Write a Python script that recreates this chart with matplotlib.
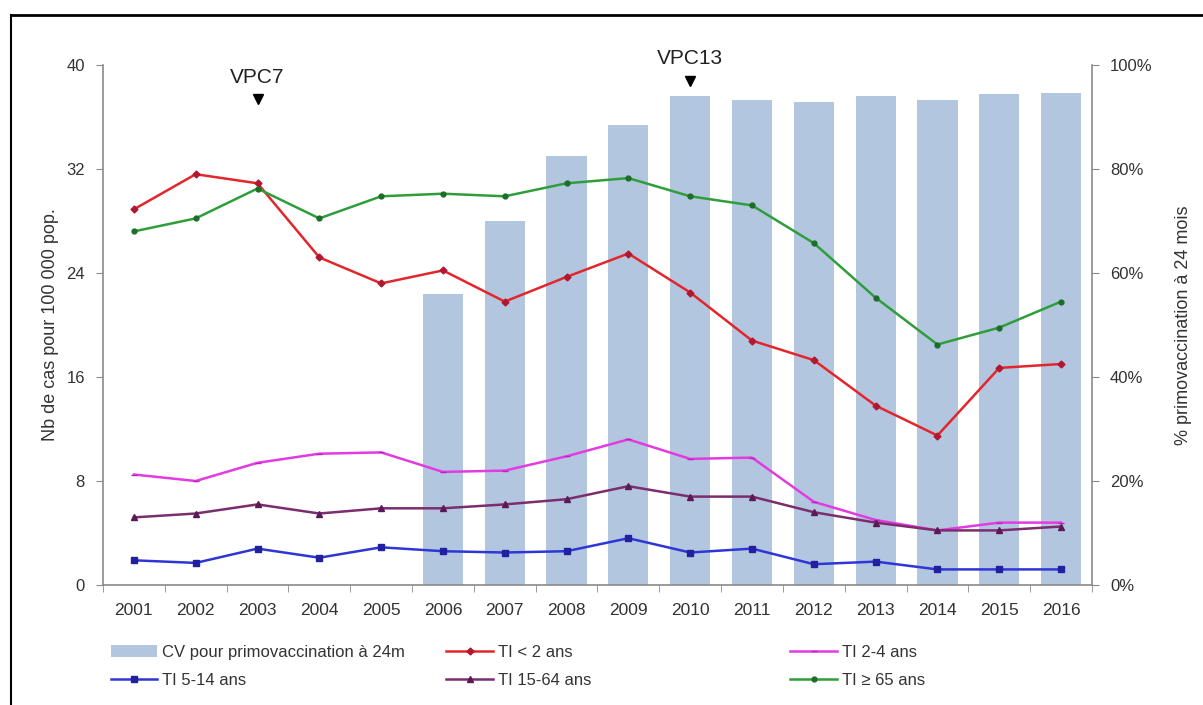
import matplotlib
matplotlib.use("Agg")
import matplotlib.pyplot as plt
import numpy as np
from matplotlib.lines import Line2D
from matplotlib.patches import Patch

years = ["2001", "2002", "2003", "2004", "2005", "2006", "2007", "2008",
         "2009", "2010", "2011", "2012", "2013", "2014", "2015", "2016"]
cv_pct = [np.nan, np.nan, np.nan, np.nan, np.nan, 56.0, 70.0, 82.5,
          88.5, 94.0, 93.2, 92.8, 94.0, 93.2, 94.5, 94.7]
ti_lt2 = [28.9, 31.6, 30.9, 25.2, 23.2, 24.2, 21.8, 23.7,
          25.5, 22.5, 18.8, 17.3, 13.8, 11.5, 16.7, 17.0]
ti_2_4 = [8.5, 8.0, 9.4, 10.1, 10.2, 8.7, 8.8, 9.9,
          11.2, 9.7, 9.8, 6.4, 5.0, 4.2, 4.8, 4.8]
ti_5_14 = [1.9, 1.7, 2.8, 2.1, 2.9, 2.6, 2.5, 2.6,
           3.6, 2.5, 2.8, 1.6, 1.8, 1.2, 1.2, 1.2]
ti_15_64 = [5.2, 5.5, 6.2, 5.5, 5.9, 5.9, 6.2, 6.6,
            7.6, 6.8, 6.8, 5.6, 4.8, 4.2, 4.2, 4.5]
ti_ge65 = [27.2, 28.2, 30.5, 28.2, 29.9, 30.1, 29.9, 30.9,
           31.3, 29.9, 29.2, 26.3, 22.1, 18.5, 19.8, 21.8]
left_ticks = [0, 8, 16, 24, 32, 40]
right_ticks = [0, 20, 40, 60, 80, 100]
events = [("VPC7", "2003"), ("VPC13", "2010")]

plt.rcParams['font.family'] = ['Liberation Sans', 'DejaVu Sans']

fig = plt.figure(figsize=(12.03, 7.05), dpi=100)
ax = fig.add_axes([0.0856, 0.1702, 0.8221, 0.7376])
ax2 = ax.twinx()

x = np.arange(len(years))
axis_col = '#8a8a8a'

# bars on the secondary axis, drawn behind
ax2.bar(x, cv_pct, width=0.65, color='#b3c6e0', zorder=1)
ax2.set_ylim(0, 100)
ax2.set_yticks(right_ticks)
ax2.set_yticklabels([f"{t}%" for t in right_ticks], fontsize=12, color='#333333')
ax2.set_ylabel("% primovaccination à 24 mois", fontsize=13, color='#333333', labelpad=16)

# lines on the primary axis in front
ax.set_zorder(ax2.get_zorder() + 1)
ax.patch.set_visible(False)

series = [
    (ti_lt2, '#e3262b', '#b01830', 'D', 3.5, "TI < 2 ans"),
    (ti_2_4, '#e23be2', '#c020c0', '_', 4, "TI 2-4 ans"),
    (ti_5_14, '#2f36d6', '#2020a0', 's', 5, "TI 5-14 ans"),
    (ti_15_64, '#7b2d6e', '#5a1a55', '^', 4.5, "TI 15-64 ans"),
    (ti_ge65, '#2f9e3a', '#1d6d2a', 'o', 3.5, "TI ≥ 65 ans"),
]
handles = {}
for vals, col, mcol, mk, ms, lab in series:
    h, = ax.plot(x, vals, color=col, lw=1.8, marker=mk, markersize=ms,
                 markerfacecolor=mcol, markeredgecolor=mcol, label=lab, zorder=3)
    handles[lab] = h

ax.set_xlim(-0.5, len(years) - 0.5)
ax.set_ylim(0, 40)
ax.set_yticks(left_ticks)
ax.set_yticklabels([str(t) for t in left_ticks], fontsize=12, color='#333333')
ax.set_xticks(x)
ax.set_xticklabels(years, fontsize=12.5, color='#333333')
ax.set_xticks(np.arange(-0.5, len(years), 1.0), minor=True)
ax.tick_params(axis='x', which='major', length=0, pad=13)
ax.tick_params(axis='x', which='minor', length=5, color=axis_col, direction='out')
ax.tick_params(axis='y', length=5, color=axis_col, pad=8)
ax2.tick_params(axis='y', length=5, color=axis_col, pad=8)
ax.set_ylabel("Nb de cas pour 100 000 pop.", fontsize=13, color='#333333', labelpad=5)

for a in (ax, ax2):
    a.spines['top'].set_visible(False)
    for s in ('left', 'right', 'bottom'):
        a.spines[s].set_color(axis_col)
        a.spines[s].set_linewidth(1.2)
ax.spines['right'].set_visible(False)
ax2.spines['left'].set_visible(False)
ax2.spines['bottom'].set_visible(False)

# event annotations
for lab, yr in events:
    i = years.index(yr)
    ytxt = 38.3 if lab == "VPC7" else 39.8
    yarr = 37.4 if lab == "VPC7" else 38.8
    ax.text(i, ytxt, lab, ha='center', va='bottom', fontsize=15, color='#222222')
    ax.plot([i], [yarr], marker='v', color='black', markersize=7, clip_on=False, zorder=5)

# legend in three independent columns
cv_handle = Patch(facecolor='#b3c6e0', edgecolor='none')
cols = [
    ([cv_handle, handles["TI 5-14 ans"]], ["CV pour primovaccination à 24m", "TI 5-14 ans"], 0.092),
    ([handles["TI < 2 ans"], handles["TI 15-64 ans"]], ["TI < 2 ans", "TI 15-64 ans"], 0.371),
    ([handles["TI 2-4 ans"], handles["TI ≥ 65 ans"]], ["TI 2-4 ans", "TI ≥ 65 ans"], 0.657),
]
for hs, ls, xpos in cols:
    leg = fig.legend(hs, ls, loc='upper left', bbox_to_anchor=(xpos, 0.085),
                     frameon=False, fontsize=12, handlelength=2.8, labelspacing=0.75,
                     handletextpad=0.3, borderaxespad=0, borderpad=0)
    for t in leg.get_texts():
        t.set_color('#333333')

# partial frame
fig.add_artist(Line2D([0.009, 1.0], [0.979, 0.979], color='black', lw=2, transform=fig.transFigure))
fig.add_artist(Line2D([0.0095, 0.0095], [0.0, 0.979], color='black', lw=1.5, transform=fig.transFigure))

fig.savefig("out.png", dpi=100)
